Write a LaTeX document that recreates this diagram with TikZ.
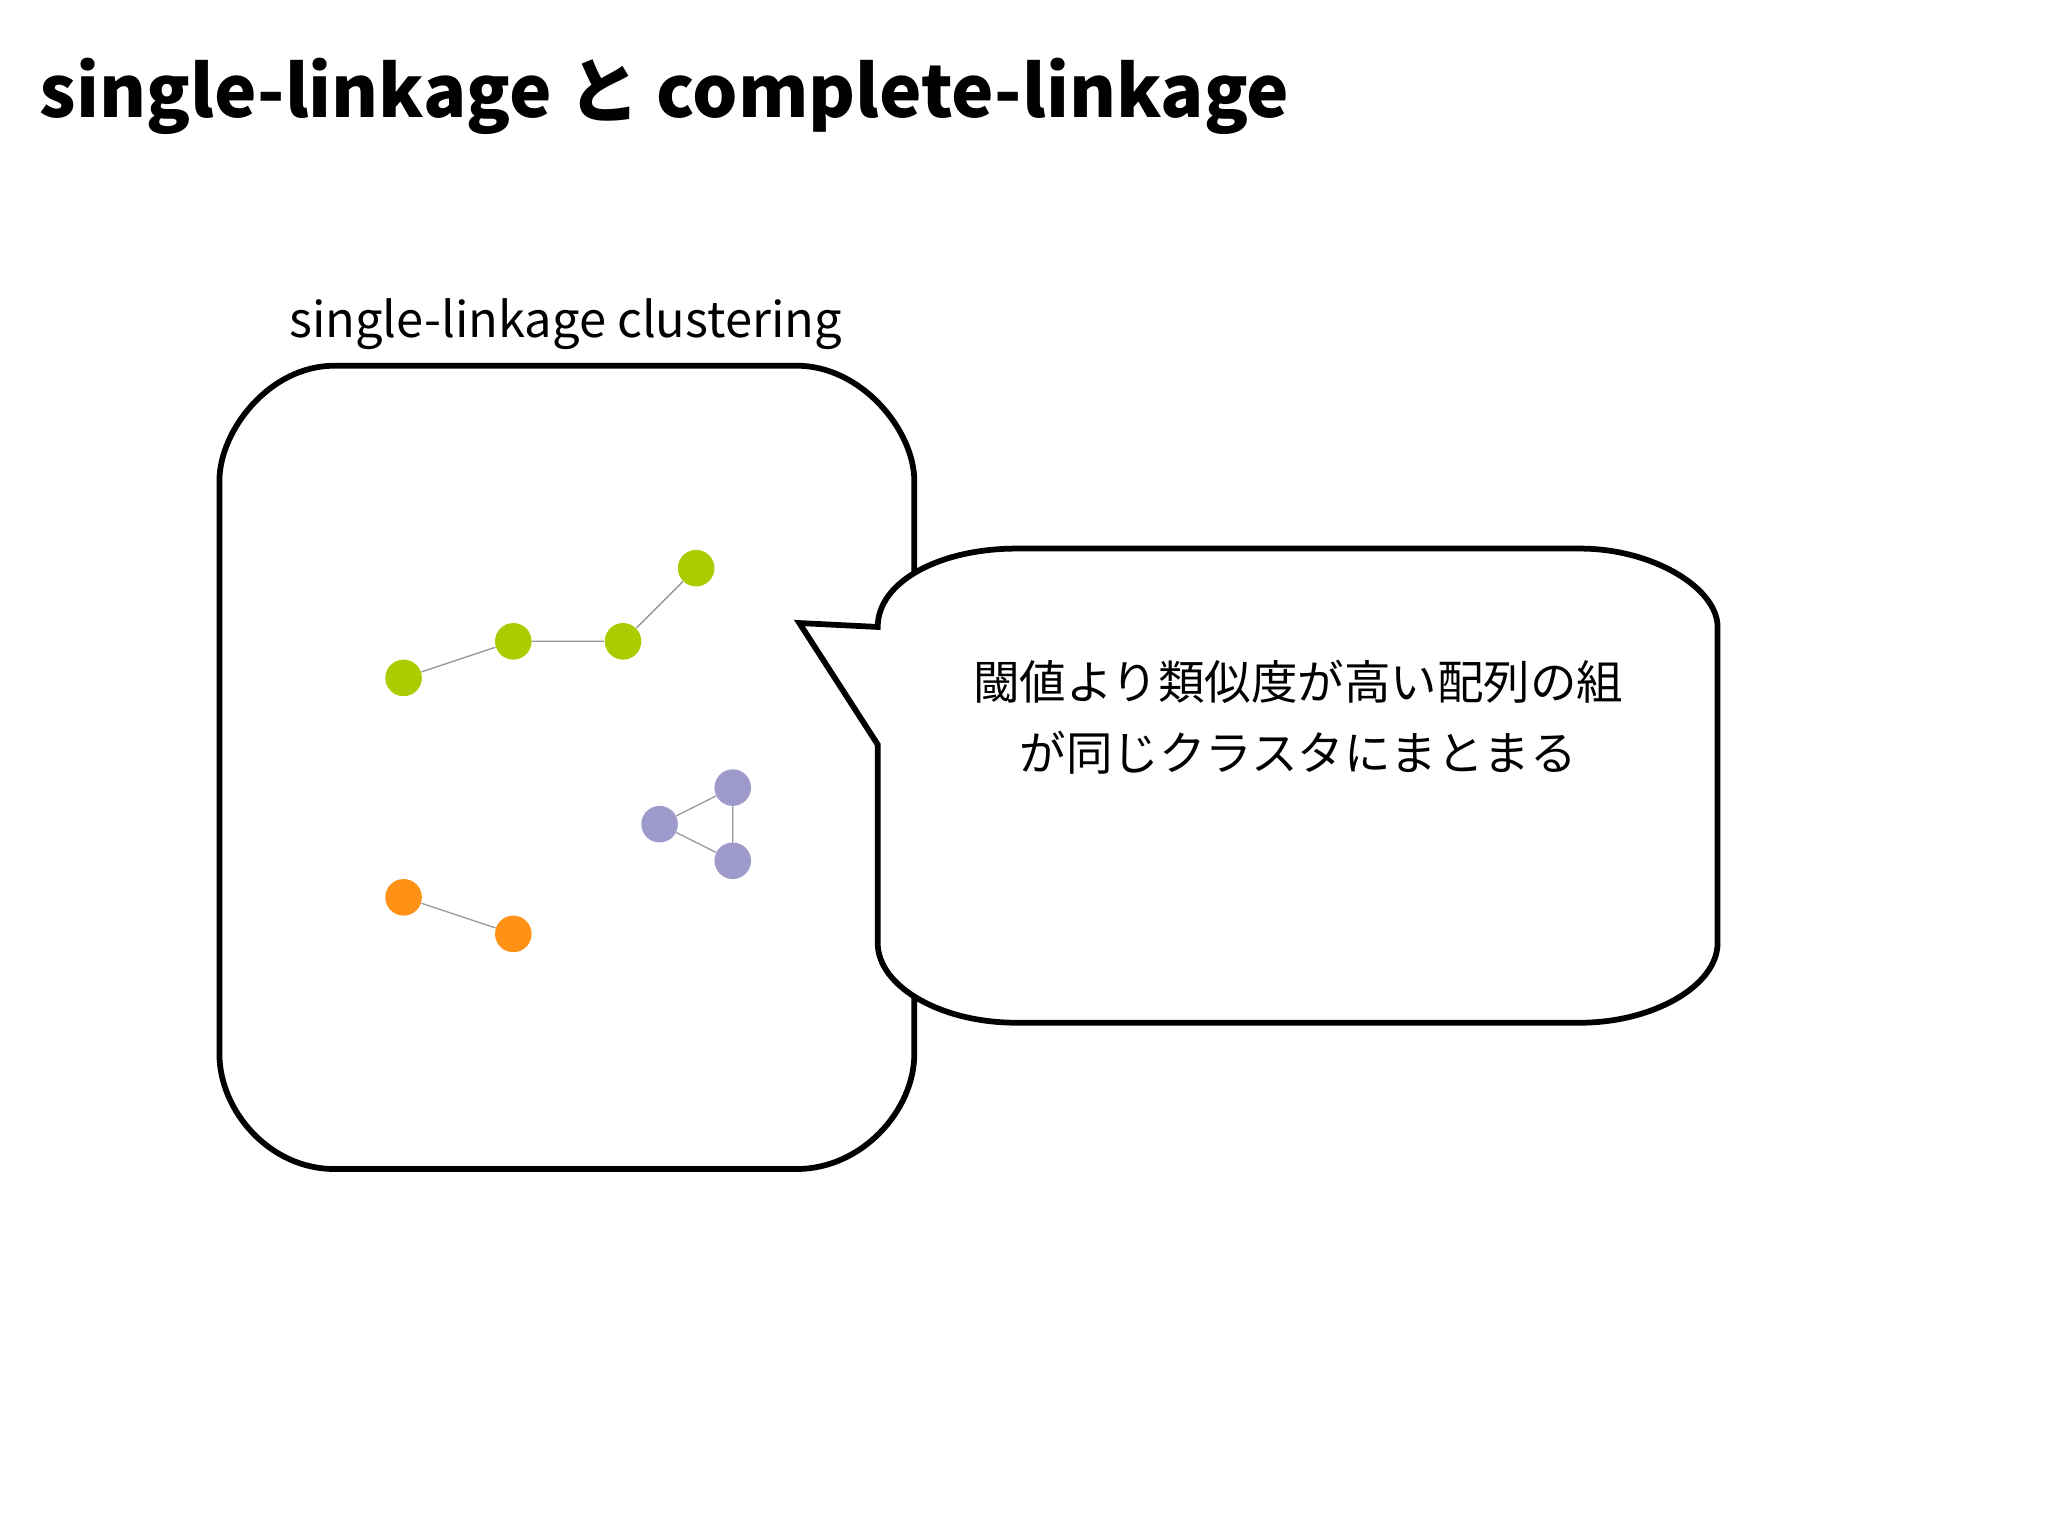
\documentclass[tikz,border=0pt]{standalone}
\usepackage{fontspec}
\setmainfont{Noto Sans CJK JP}
\begin{document}
\begin{tikzpicture}[x=0.5pt,y=-0.5pt,
  dot/.style={circle,inner sep=0pt,minimum size=14pt},
  gn/.style={dot,fill={rgb,255:red,170;green,204;blue,0}},
  pu/.style={dot,fill={rgb,255:red,158;green,154;blue,203}},
  og/.style={dot,fill={rgb,255:red,255;green,145;blue,20}},
  ed/.style={draw={rgb,255:red,150;green,150;blue,150},line width=0.5pt},
  frame/.style={draw=black,line width=2.2pt}]
\useasboundingbox (0,0) rectangle (1568,1175);
\node[anchor=base west,inner sep=0pt,font=\bfseries\fontsize{27.4}{32}\selectfont] (title) at (30,90) {single-linkage と complete-linkage};
\node[font=\fontsize{18.7}{22}\selectfont] (lab) at (433,248) {single-linkage clustering};
\draw[frame] (256,280) -- (610,280) .. controls (660,280) and (700,330) .. (700,368) -- (700,807) .. controls (700,850) and (660,895) .. (610,895) -- (256,895) .. controls (206,895) and (168,850) .. (168,807) -- (168,368) .. controls (168,330) and (206,280) .. (256,280) -- cycle;
\draw[frame,fill=white] (672,480) .. controls (672,445) and (720,420) .. (778,420) -- (1210,420) .. controls (1265,420) and (1315,450) .. (1315,480) -- (1315,722) .. controls (1315,755) and (1265,783) .. (1210,783) -- (778,783) .. controls (720,783) and (672,755) .. (672,722) -- (672,570) -- (612,477) -- cycle;
\node[align=center,font=\fontsize{17.8}{27}\selectfont] (txt) at (994,549) {閾値より類似度が高い配列の組\\が同じクラスタにまとまる};
\node[gn] (g1) at (309,519) {};
\node[gn] (g2) at (393,491) {};
\node[gn] (g3) at (477,491) {};
\node[gn] (g4) at (533,435) {};
\node[pu] (p1) at (505,631) {};
\node[pu] (p2) at (561,603) {};
\node[pu] (p3) at (561,659) {};
\node[og] (o1) at (309,687) {};
\node[og] (o2) at (393,715) {};
\draw[ed] (g1)--(g2) (g2)--(g3) (g3)--(g4) (p1)--(p2) (p2)--(p3) (p1)--(p3) (o1)--(o2);
\end{tikzpicture}
\end{document}
